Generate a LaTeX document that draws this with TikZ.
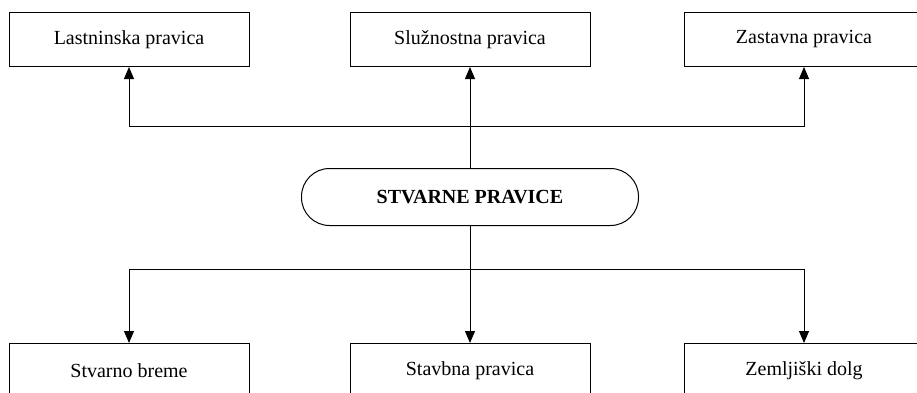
\documentclass[tikz,border=0pt]{standalone}
\usepackage{fontspec}
\setmainfont{Liberation Serif}
\usetikzlibrary{positioning,arrows.meta}

\begin{document}
\begin{tikzpicture}[
  node distance=101pt and 100pt,
  pravica/.style={draw, line width=1pt, minimum width=240pt, minimum height=54pt, inner sep=0pt, font=\fontsize{20}{24}\selectfont},
  glavna/.style={draw, line width=1pt, rounded corners=28pt, minimum width=337pt, minimum height=57pt, inner sep=0pt, font=\fontsize{20}{24}\selectfont\bfseries},
  arr/.style={line width=1pt, -{Triangle[length=12pt,width=10pt]}},
]
\useasboundingbox (0,0) rectangle (917pt,392pt);
\node[glavna] (stv) at (470pt,195pt) {STVARNE PRAVICE};

% zgoraj
\node[pravica, above=101pt of stv] (sluz) {Služnostna pravica};
\node[pravica, left=100pt of sluz] (last) {Lastninska pravica};
\node[pravica, right=93pt of sluz] (zast) {Zastavna pravica};

% spodaj
\node[pravica, below=117pt of stv] (stavb) {Stavbna pravica};
\node[pravica, left=100pt of stavb] (breme) {Stvarno breme};
\node[pravica, right=93pt of stavb] (zemlj) {Zemljiški dolg};

\coordinate (gor) at ([yshift=42pt]stv.north);
\coordinate (dol) at ([yshift=-43pt]stv.south);

\draw[arr] (stv.north) -- (sluz.south);
\draw[arr] (gor) -| (last.south);
\draw[arr] (gor) -| (zast.south);

\draw[arr] (stv.south) -- (stavb.north);
\draw[arr] (dol) -| (breme.north);
\draw[arr] (dol) -| (zemlj.north);
\end{tikzpicture}
\end{document}
